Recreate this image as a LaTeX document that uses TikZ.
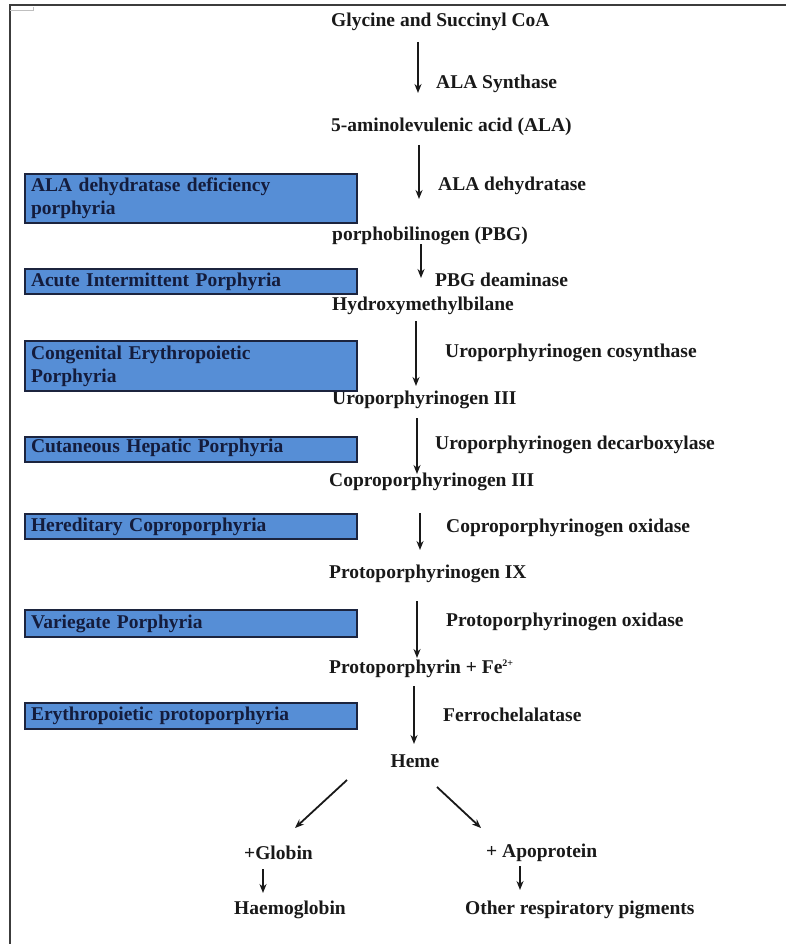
\documentclass[tikz,border=0pt]{standalone}
\usepackage{fontspec}
\setmainfont{Liberation Serif}
\usetikzlibrary{arrows.meta}
\definecolor{boxblue}{RGB}{86,142,214}
\definecolor{boxline}{RGB}{28,36,62}
\definecolor{ink}{RGB}{25,25,25}
\definecolor{boxink}{RGB}{20,28,60}
\definecolor{frame}{RGB}{60,60,60}
\tikzset{
  x=1pt,y=-1pt,
  lbl/.style={anchor=west,inner sep=0pt,font=\fontsize{19.5}{22}\selectfont\bfseries,text=ink},
  clbl/.style={inner sep=0pt,font=\fontsize{19.5}{22}\selectfont\bfseries,text=ink},
  disease/.style={draw=boxline,line width=2pt,fill=boxblue,anchor=north west,minimum width=332pt,
     text width=320pt,align=left,inner xsep=6pt,inner ysep=0pt,
     font=\fontsize{19.5}{23}\selectfont\bfseries,text=boxink},
  arr/.style={draw=ink,line width=1.8pt,-{Stealth[length=9pt,width=7pt]}},
}
\begin{document}
\begin{tikzpicture}
\useasboundingbox (0,0) rectangle (786,944);
\fill[white] (0,0) rectangle (786,944);
% frame
\draw[frame,line width=2pt] (9.5,944) -- (9.5,5) -- (786,5);
\draw[gray!50,line width=0.8pt] (10,10) -- (33,10) -- (33,7);

% pathway nodes
\node[lbl] (gly) at (331,22) {Glycine and Succinyl CoA};
\node[lbl] (e1) at (436,84) {ALA Synthase};
\node[lbl] (ala) at (331,127) {5-aminolevulenic acid (ALA)};
\node[lbl] (e2) at (438,186) {ALA dehydratase};
\node[lbl] (pbg) at (332,236) {porphobilinogen (PBG)};
\node[lbl] (e3) at (435,280) {PBG deaminase};
\node[lbl] (hmb) at (332,306) {Hydroxymethylbilane};
\node[lbl] (e4) at (445,353) {Uroporphyrinogen cosynthase};
\node[lbl] (uro) at (332,400) {Uroporphyrinogen III};
\node[lbl] (e5) at (435,445) {Uroporphyrinogen decarboxylase};
\node[lbl] (copro) at (329,482) {Coproporphyrinogen III};
\node[lbl] (e6) at (446,528) {Coproporphyrinogen oxidase};
\node[lbl] (proto) at (329,574) {Protoporphyrinogen IX};
\node[lbl] (e7) at (446,622) {Protoporphyrinogen oxidase};
\node[lbl] (pfe) at (329,669) {Protoporphyrin + Fe\textsuperscript{\fontsize{10}{10}\selectfont 2+}};
\node[lbl] (e8) at (443,715) {Ferrochelalatase};
\node[clbl] (heme) at (415,761) {Heme};
\node[lbl] (glob) at (244,853) {+Globin};
\node[lbl] (apo) at (486,853) {+ Apoprotein};
\node[lbl] (hb) at (234,910) {Haemoglobin};
\node[lbl] (orp) at (465,910) {Other respiratory pigments};

% disease boxes
\node[disease,minimum height=49pt] (d1) at (24,173) {ALA dehydratase deficiency\\porphyria};
\node[disease,minimum height=25pt] (d2) at (24,268) {Acute Intermittent Porphyria};
\node[disease,minimum height=50pt] (d3) at (24,340) {Congenital Erythropoietic\\Porphyria};
\node[disease,minimum height=25pt,text depth=7pt] (d4) at (24,436) {Cutaneous Hepatic Porphyria};
\node[disease,minimum height=25pt] (d5) at (24,513) {Hereditary  Coproporphyria};
\node[disease,minimum height=27pt] (d6) at (24,609) {Variegate Porphyria};
\node[disease,minimum height=26pt] (d7) at (24,702) {Erythropoietic protoporphyria};

% arrows
\draw[arr] (418,42) -- (418,93);
\draw[arr] (419,145) -- (419,199);
\draw[arr] (421,244) -- (421,278);
\draw[arr] (416,321) -- (416,386);
\draw[arr] (417,418) -- (417,474);
\draw[arr] (420,513) -- (420,550);
\draw[arr] (417,601) -- (417,658);
\draw[arr] (414,686) -- (414,744);
\draw[arr] (347,780) -- (295,828);
\draw[arr] (437,787) -- (481,828);
\draw[arr] (263,869) -- (263,893);
\draw[arr] (520,866) -- (520,890);
\end{tikzpicture}
\end{document}
